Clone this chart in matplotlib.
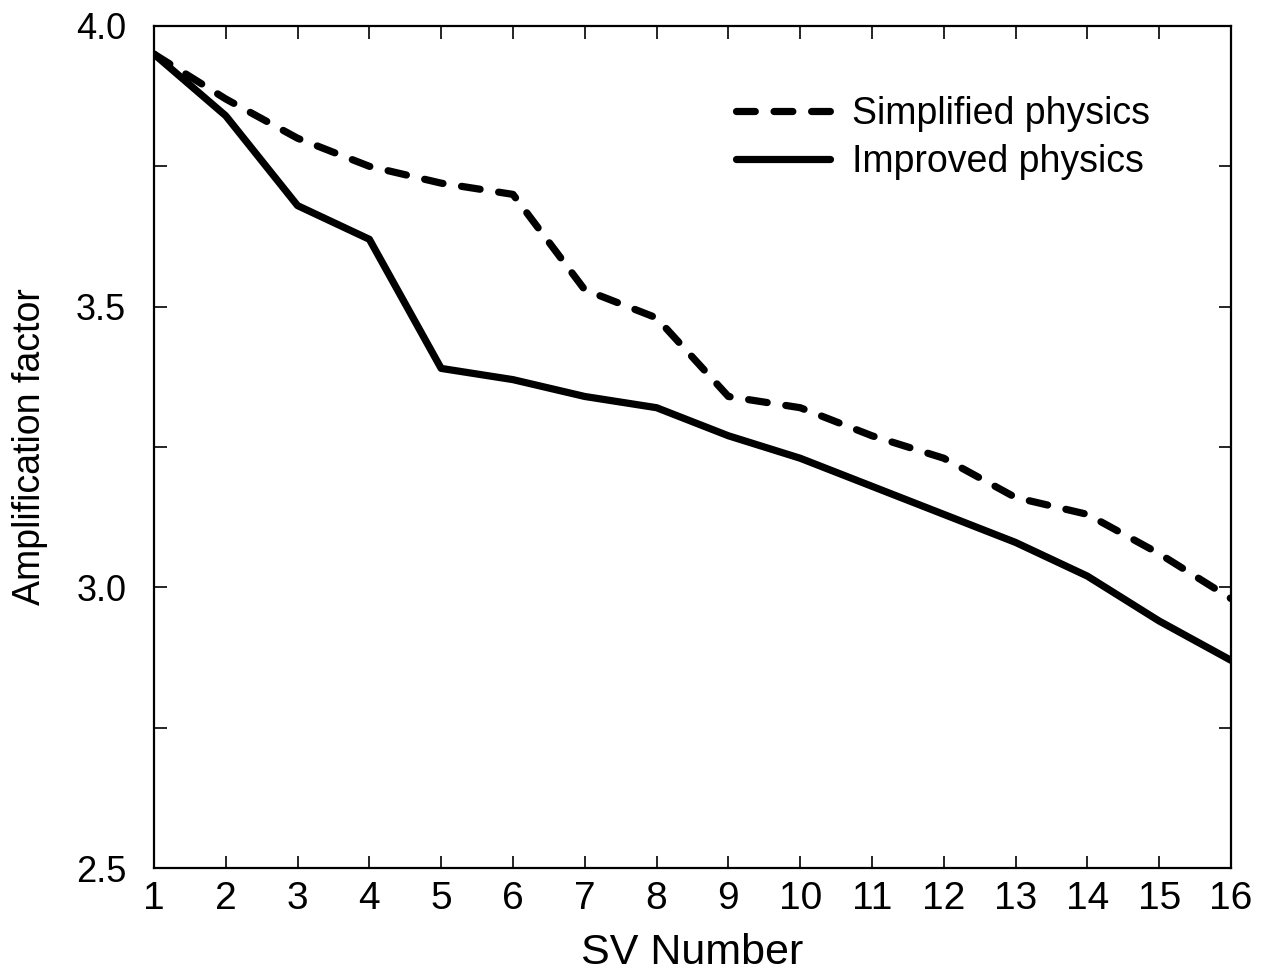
import matplotlib.pyplot as plt
import numpy as np

plt.rcParams['font.family'] = ['Liberation Sans', 'DejaVu Sans']

# Data
sv_number = np.arange(1, 17)
simplified = [3.95, 3.87, 3.80, 3.75, 3.72, 3.70, 3.53, 3.48,
              3.34, 3.32, 3.27, 3.23, 3.16, 3.13, 3.06, 2.98]
improved = [3.95, 3.84, 3.68, 3.62, 3.39, 3.37, 3.34, 3.32,
            3.27, 3.23, 3.18, 3.13, 3.08, 3.02, 2.94, 2.87]
y_ticks = [2.5, 3.0, 3.5, 4.0]

fig = plt.figure(figsize=(12.65, 9.73), dpi=100)
ax = fig.add_axes([0.1217, 0.1079, 0.8514, 0.8654])

ax.plot(sv_number, simplified, color='black', lw=5.2, dashes=(2.6, 2.6),
        dash_capstyle='round', label='Simplified physics')
ax.plot(sv_number, improved, color='black', lw=5.2, solid_capstyle='round',
        solid_joinstyle='round', label='Improved physics')

ax.set_xlim(1, 16)
ax.set_ylim(2.5, 4.0)
ax.set_xticks(sv_number)
ax.set_yticks(y_ticks)
ax.set_yticklabels([f'{v:.1f}' for v in y_ticks])
ax.set_yticks(np.arange(2.75, 4.0, 0.5), minor=True)

ax.tick_params(axis='both', which='both', direction='in', top=True, right=True,
               width=1.2, length=9)
ax.tick_params(axis='x', which='major', pad=9, labelsize=28)
ax.tick_params(axis='y', which='major', pad=20, labelsize=26)
for s in ax.spines.values():
    s.set_linewidth(1.6)

ax.set_xlabel('SV Number', fontsize=31, labelpad=12)
ax.set_ylabel('Amplification factor', fontsize=27)
ax.yaxis.set_label_coords(-0.098, 0.5)

ax.legend(loc='upper left', bbox_to_anchor=(0.5408, 0.917), frameon=False,
          fontsize=27, handlelength=2.5, handletextpad=0.58,
          labelspacing=0.32, borderpad=0, borderaxespad=0)

plt.savefig('out.png', dpi=100)
